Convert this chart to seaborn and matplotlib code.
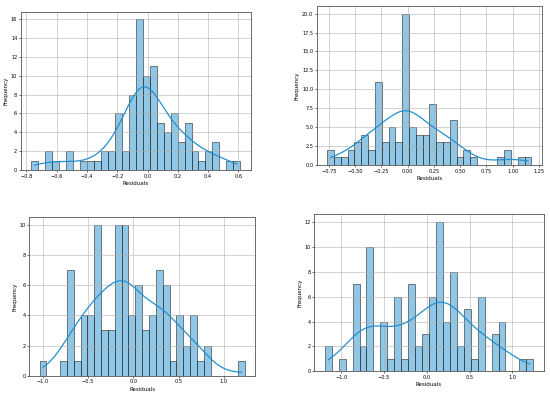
import numpy as np
import matplotlib
matplotlib.use("Agg")
import matplotlib.pyplot as plt
import seaborn as sns

# bin counts (30 bins each)
counts_a = [1, 0, 2, 1, 0, 2, 0, 1, 1, 1, 2, 2, 6, 2, 8, 16, 10, 11, 5, 4, 6, 3, 5, 2, 1, 2, 3, 0, 1, 1]
range_a = (-0.767, 0.613)
yticks_a = [0, 2, 4, 6, 8, 10, 12, 14, 16]

counts_b = [2, 1, 1, 2, 3, 4, 2, 11, 3, 5, 3, 20, 5, 4, 4, 8, 3, 3, 6, 1, 2, 1, 0, 0, 0, 1, 2, 0, 1, 1]
range_b = (-0.765, 1.178)
yticks_b = [0, 2.5, 5, 7.5, 10, 12.5, 15, 17.5, 20]

counts_c = [1, 0, 0, 1, 7, 1, 4, 4, 10, 3, 3, 10, 10, 4, 6, 3, 4, 7, 6, 1, 4, 2, 4, 1, 2, 0, 0, 0, 0, 1]
range_c = (-1.035, 1.23)
yticks_c = [0, 2, 4, 6, 8, 10]

counts_d = [2, 0, 1, 0, 7, 2, 10, 0, 4, 1, 6, 1, 7, 2, 3, 6, 12, 4, 8, 2, 5, 1, 6, 0, 3, 4, 0, 0, 1, 1]
range_d = (-1.193, 1.243)
yticks_d = [0, 2, 4, 6, 8, 10, 12]

BAR_COLOR = "#2390cf"


def residual_hist(ax, counts, rng, yticks):
    # rebuild the residuals as bin centres repeated by their counts
    edges = np.linspace(rng[0], rng[1], len(counts) + 1)
    centers = (edges[:-1] + edges[1:]) / 2
    residuals = np.repeat(centers, counts)
    sns.histplot(x=residuals, bins=len(counts), binrange=rng,
                 kde=True, ax=ax, color=BAR_COLOR, edgecolor="#222222",
                 linewidth=0.4, line_kws={"linewidth": 0.9})
    ax.set_yticks(yticks)
    ax.set_xlabel("Residuals", fontsize=4, labelpad=1.5)
    ax.set_ylabel("Frequency", fontsize=4, labelpad=1.5)
    ax.tick_params(labelsize=3.6, length=1.5, width=0.4, pad=1.2)
    ax.grid(True, linewidth=0.4, color="#b0b0b0")
    for s in ax.spines.values():
        s.set_linewidth(0.6)
        s.set_color("#555555")


fig = plt.figure(figsize=(5.5, 3.95), dpi=100)
ax1 = fig.add_axes([0.0382, 0.5696, 0.4176, 0.4008])
ax2 = fig.add_axes([0.5764, 0.5823, 0.4085, 0.4025])
ax3 = fig.add_axes([0.0533, 0.0489, 0.4104, 0.4010])
ax4 = fig.add_axes([0.5715, 0.0595, 0.4171, 0.3987])

residual_hist(ax1, counts_a, range_a, yticks_a)
residual_hist(ax2, counts_b, range_b, yticks_b)
residual_hist(ax3, counts_c, range_c, yticks_c)
residual_hist(ax4, counts_d, range_d, yticks_d)

fig.savefig("out.png", dpi=100)
